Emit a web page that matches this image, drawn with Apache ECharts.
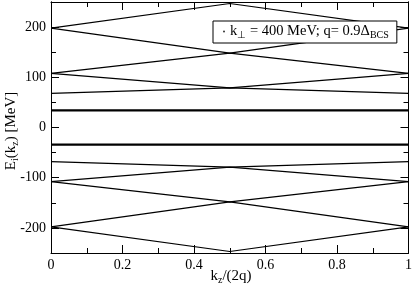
<!DOCTYPE html>
<html>
<head>
<meta charset="utf-8">
<script src="https://cdn.jsdelivr.net/npm/echarts@6/dist/echarts.min.js"></script>
<style>html,body{margin:0;padding:0;background:#fff}#c{width:415px;height:289px}</style>
</head>
<body>
<div id="c"></div>
<script>
// x positions (kz / 2q)
const kz = [0, 0.5, 1];
// positive branches (MeV)
const bandP1 = [34, 34, 34];
const bandP2 = [68, 79, 68];
const bandP3 = [108, 79, 108];
const bandP4 = [108, 148, 108];
const bandP5 = [198, 148, 198];
const bandP6 = [198, 247, 198];
// negative branches (MeV)
const bandN1 = [-34, -34, -34];
const bandN2 = [-68, -79, -68];
const bandN3 = [-108, -79, -108];
const bandN4 = [-108, -148, -108];
const bandN5 = [-198, -148, -198];
const bandN6 = [-198, -247, -198];
const thickBands = [bandP1, bandN1];
const allBands = [bandP1, bandP2, bandP3, bandP4, bandP5, bandP6, bandN1, bandN2, bandN3, bandN4, bandN5, bandN6];
const yMajor = [-200, -100, 0, 100, 200];
const yMinor = [-150, -50, 50, 150];
const legendName = 'k⊥ = 400 MeV; q= 0.9ΔBCS';

const FONT = 'Liberation Serif';
const series = allBands.map(b => ({
  type: 'line',
  data: kz.map((x, i) => [x, b[i]]),
  showSymbol: false,
  silent: true,
  lineStyle: {color: '#000', width: thickBands.includes(b) ? 2.2 : 1.2},
  xAxisIndex: 0, yAxisIndex: 0
}));
series.push({type: 'scatter', name: legendName, data: [], itemStyle: {color: '#000'}});

const tickStyle = {color: '#000', width: 1};
const yAxisBase = (pos, vals, len, labels) => ({
  type: 'value', position: pos, min: -250, max: 250,
  axisLine: {show: true, onZero: false, lineStyle: {color: '#000', width: 1}},
  axisTick: {show: true, inside: true, length: len, customValues: vals, lineStyle: tickStyle},
  axisLabel: labels ? {show: true, customValues: vals, fontFamily: FONT, fontSize: 14, color: '#000', margin: 5} : {show: false},
  splitLine: {show: false}
});
const xAxisBase = (pos, labels) => ({
  type: 'value', position: pos, min: 0, max: 1, interval: 0.2,
  axisLine: {show: true, onZero: false, lineStyle: {color: '#000', width: 1}},
  axisTick: {show: true, inside: true, length: 8, lineStyle: tickStyle},
  minorTick: {show: true, splitNumber: 2, length: 5, lineStyle: tickStyle},
  axisLabel: labels ? {show: true, fontFamily: FONT, fontSize: 14, color: '#000', margin: 5,
    formatter: v => String(v)} : {show: false},
  splitLine: {show: false}
});

const richStyle = {
  n: {fontFamily: FONT, fontSize: 15, fill: '#000'},
  s: {fontFamily: FONT, fontSize: 10, fill: '#000', padding: [8, 0, 0, 0]}
};

const chart = echarts.init(document.getElementById('c'), null, {renderer: 'canvas'});
chart.setOption({
  animation: false,
  backgroundColor: '#fff',
  grid: {left: 51, right: 4, top: 2, bottom: 36},
  xAxis: [xAxisBase('bottom', true), xAxisBase('top', false)],
  yAxis: [
    yAxisBase('left', yMajor, 8, true),
    yAxisBase('left', yMinor, 5, false),
    yAxisBase('right', yMajor, 8, false),
    yAxisBase('right', yMinor, 5, false)
  ],
  legend: {
    show: true, left: 213, top: 21,
    data: [{name: legendName, icon: 'circle'}],
    itemWidth: 2, itemHeight: 2, itemGap: 5,
    backgroundColor: '#fff', borderColor: '#000', borderWidth: 1,
    padding: [3, 8, 3, 10],
    formatter: () => '{n|k}{s|⊥}{n| = 400 MeV; q= 0.9Δ}{s|BCS}',
    textStyle: {
      fontFamily: FONT, fontSize: 14.5, color: '#000',
      rich: {
        n: {fontFamily: FONT, fontSize: 14.5, color: '#000'},
        s: {fontFamily: FONT, fontSize: 10, color: '#000', padding: [7, 0, 0, 0]}
      }
    }
  },
  graphic: [
    {type: 'text', x: 231, y: 276,
      style: {rich: richStyle, text: '{n|k}{s|z}{n|/(2q)}', align: 'center', verticalAlign: 'middle'}},
    {type: 'text', x: 11, y: 131, rotation: Math.PI / 2,
      style: {rich: richStyle, text: '{n|E}{s|i}{n|(k}{s|z}{n|) [MeV]}', align: 'center', verticalAlign: 'middle'}}
  ],
  series: series
});
</script>
</body>
</html>
